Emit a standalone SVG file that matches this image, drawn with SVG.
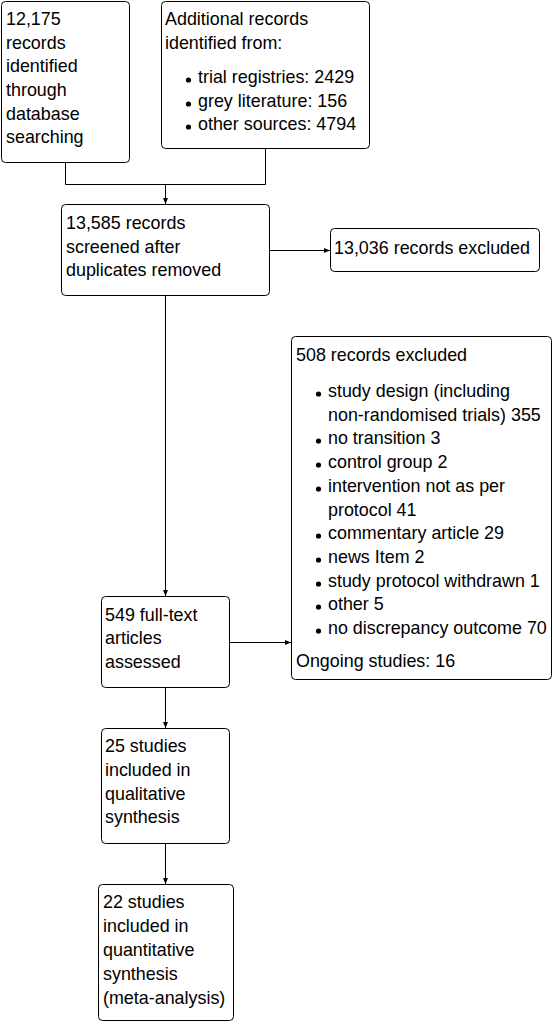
<svg xmlns="http://www.w3.org/2000/svg" width="553" height="1024" viewBox="0 0 553 1024">
<defs>
<style>
.box{fill:#fff;stroke:#000;stroke-width:1}
.t{font-family:"Liberation Sans",Arial,sans-serif;font-size:17.9px;fill:#000}
.ln{fill:none;stroke:#000;stroke-width:1}
.b{fill:#000}
</style>
<marker id="ah" markerWidth="6" markerHeight="6" refX="6" refY="3" orient="auto" markerUnits="userSpaceOnUse">
<path d="M0,0.5 L6,3 L0,5.5 Z" fill="#000"/>
</marker>
</defs>
<rect width="553" height="1024" fill="#fff"/>
<g id="connectors">
<path class="ln" d="M65.5,162 V184.5 H265.5 V148"/>
<path class="ln" d="M165.5,184.5 V204" marker-end="url(#ah)"/>
<path class="ln" d="M269,250.5 H330" marker-end="url(#ah)"/>
<path class="ln" d="M165.5,295 V596" marker-end="url(#ah)"/>
<path class="ln" d="M229,642.5 H291" marker-end="url(#ah)"/>
<path class="ln" d="M165.5,687 V728" marker-end="url(#ah)"/>
<path class="ln" d="M165.5,843 V884" marker-end="url(#ah)"/>
</g>
<g id="n1">
<rect class="box" x="1.5" y="1.5" width="128" height="161" rx="4"/>
<text class="t" x="6" y="25">12,175</text>
<text class="t" x="6" y="49">records</text>
<text class="t" x="6" y="72">identified</text>
<text class="t" x="6" y="96">through</text>
<text class="t" x="6" y="120">database</text>
<text class="t" x="6" y="143">searching</text>
</g>
<g id="n2">
<rect class="box" x="161.5" y="1.5" width="208" height="147" rx="4"/>
<text class="t" x="165" y="25">Additional records</text>
<text class="t" x="165" y="49">identified from:</text>
<circle class="b" cx="188.5" cy="80" r="2.6"/>
<text class="t" x="198" y="83">trial registries: 2429</text>
<circle class="b" cx="188.5" cy="104" r="2.6"/>
<text class="t" x="198" y="107">grey literature: 156</text>
<circle class="b" cx="188.5" cy="127" r="2.6"/>
<text class="t" x="198" y="130">other sources: 4794</text>
</g>
<g id="n3">
<rect class="box" x="61.5" y="204.5" width="208" height="91" rx="4"/>
<text class="t" x="66" y="229">13,585 records</text>
<text class="t" x="66" y="253">screened after</text>
<text class="t" x="66" y="276">duplicates removed</text>
</g>
<g id="n4">
<rect class="box" x="330.5" y="228.5" width="209" height="43" rx="4"/>
<text class="t" x="334" y="254">13,036 records excluded</text>
</g>
<g id="n5">
<rect class="box" x="101.5" y="596.5" width="128" height="91" rx="4"/>
<text class="t" x="105" y="621">549 full-text</text>
<text class="t" x="105" y="644">articles</text>
<text class="t" x="105" y="668">assessed</text>
</g>
<g id="n6">
<rect class="box" x="291.5" y="336.5" width="260" height="343" rx="4"/>
<text class="t" x="296" y="361">508 records excluded</text>
<circle class="b" cx="318.5" cy="394" r="2.6"/>
<text class="t" x="328" y="397">study design (including</text>
<text class="t" x="328" y="421">non-randomised trials) 355</text>
<circle class="b" cx="318.5" cy="441" r="2.6"/>
<text class="t" x="328" y="444">no transition 3</text>
<circle class="b" cx="318.5" cy="465" r="2.6"/>
<text class="t" x="328" y="468">control group 2</text>
<circle class="b" cx="318.5" cy="489" r="2.6"/>
<text class="t" x="328" y="492">intervention not as per</text>
<text class="t" x="328" y="516">protocol 41</text>
<circle class="b" cx="318.5" cy="536" r="2.6"/>
<text class="t" x="328" y="539">commentary article 29</text>
<circle class="b" cx="318.5" cy="560" r="2.6"/>
<text class="t" x="328" y="563">news Item 2</text>
<circle class="b" cx="318.5" cy="584" r="2.6"/>
<text class="t" x="328" y="587">study protocol withdrawn 1</text>
<circle class="b" cx="318.5" cy="607" r="2.6"/>
<text class="t" x="328" y="610">other 5</text>
<circle class="b" cx="318.5" cy="631" r="2.6"/>
<text class="t" x="328" y="634">no discrepancy outcome 70</text>
<text class="t" x="296" y="667">Ongoing studies: 16</text>
</g>
<g id="n7">
<rect class="box" x="101.5" y="728.5" width="128" height="115" rx="4"/>
<text class="t" x="105" y="752">25 studies</text>
<text class="t" x="105" y="776">included in</text>
<text class="t" x="105" y="800">qualitative</text>
<text class="t" x="105" y="823">synthesis</text>
</g>
<g id="n8">
<rect class="box" x="98.5" y="884.5" width="135" height="136" rx="4"/>
<text class="t" x="103" y="908">22 studies</text>
<text class="t" x="103" y="932">included in</text>
<text class="t" x="103" y="956">quantitative</text>
<text class="t" x="103" y="980">synthesis</text>
<text class="t" x="103" y="1004">(meta-analysis)</text>
</g>
</svg>
